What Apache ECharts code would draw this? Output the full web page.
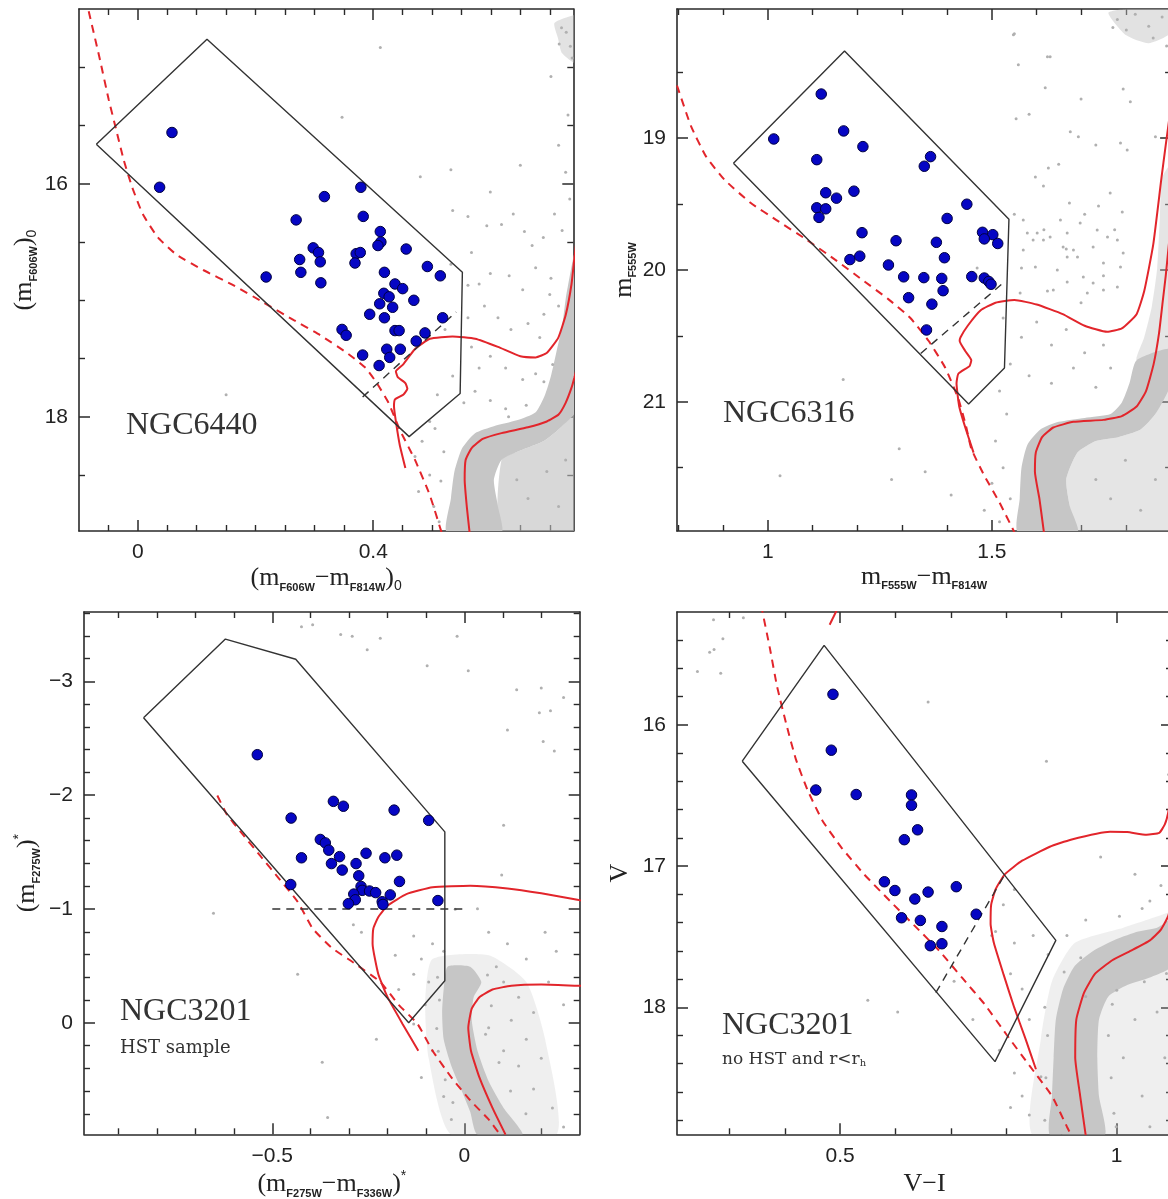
<!DOCTYPE html>
<html><head><meta charset="utf-8">
<script src="https://cdn.jsdelivr.net/npm/echarts@6/dist/echarts.min.js"></script>
<style>html,body{margin:0;padding:0;background:#fff}#c{width:1168px;height:1199px}</style>
</head><body><div id="c"></div>
<script>
// ================= DATA =================
// ---- Panel 1: NGC6440 ----
const p1XTicks = [0, 0.4];
const p1YTicks = [16, 18];
const p1Blue = [[0.058,15.56],[0.037,16.03],[0.379,16.03],[0.317,16.11],[0.383,16.28],[0.269,16.31],[0.412,16.41],[0.413,16.50],[0.408,16.53],[0.456,16.56],[0.298,16.55],[0.307,16.59],[0.371,16.60],[0.378,16.59],[0.275,16.65],[0.310,16.67],[0.369,16.68],[0.492,16.71],[0.514,16.79],[0.218,16.80],[0.277,16.76],[0.419,16.76],[0.311,16.85],[0.437,16.86],[0.450,16.90],[0.418,16.94],[0.427,16.97],[0.469,17.00],[0.411,17.03],[0.433,17.06],[0.394,17.12],[0.419,17.15],[0.518,17.15],[0.347,17.25],[0.354,17.30],[0.437,17.26],[0.444,17.26],[0.488,17.28],[0.473,17.35],[0.423,17.42],[0.446,17.42],[0.382,17.47],[0.428,17.49],[0.410,17.56]];
const p1Box = [[-0.0706,15.66],[0.1175,14.76],[0.5515,16.76],[0.5477,17.80],[0.461,18.17],[-0.0706,15.66]];
const p1Cut = [[0.382,17.83],[0.541,17.10]];
const p1Zahb = [[-0.0835,14.52],[-0.0655,14.91],[-0.0494,15.28],[-0.0366,15.54],[-0.0238,15.80],[-0.0096,16.03],[0.0083,16.26],[0.034,16.46],[0.066,16.61],[0.111,16.74],[0.162,16.87],[0.214,17.02],[0.265,17.17],[0.310,17.30],[0.355,17.45],[0.387,17.58],[0.406,17.71],[0.426,17.88],[0.445,18.11],[0.471,18.37],[0.496,18.67],[0.516,18.99]];
const p1IsoUpper = [[0.4546,18.44],[0.445,18.24],[0.4385,18.04],[0.4353,17.91],[0.437,17.85],[0.451,17.81],[0.458,17.76],[0.4546,17.71],[0.4417,17.66],[0.4385,17.61],[0.451,17.55],[0.4706,17.42],[0.4963,17.33],[0.5348,17.31],[0.5733,17.33],[0.612,17.40],[0.650,17.48],[0.676,17.49],[0.6953,17.45],[0.7146,17.32],[0.7274,17.12],[0.737,16.86],[0.742,16.63],[0.75,16.3]];
const p1IsoLower = [[0.5637,18.99],[0.559,18.77],[0.5554,18.54],[0.557,18.37],[0.567,18.27],[0.586,18.19],[0.618,18.14],[0.663,18.09],[0.695,18.04],[0.715,17.98],[0.727,17.88],[0.737,17.75],[0.742,17.66],[0.75,17.5]];
const p1Dense = [[0.525,18.99],[0.532,18.70],[0.538,18.47],[0.551,18.27],[0.573,18.14],[0.605,18.08],[0.644,18.03],[0.676,17.96],[0.692,17.81],[0.702,17.65],[0.711,17.45],[0.721,17.22],[0.727,16.99],[0.734,16.79],[0.742,16.59],[0.75,16.5],[0.75,17.91],[0.721,18.08],[0.689,18.21],[0.650,18.29],[0.618,18.37],[0.605,18.54],[0.612,18.77],[0.618,18.99]];
const p1Light = [[0.618,18.99],[0.618,18.37],[0.650,18.29],[0.689,18.21],[0.721,18.08],[0.75,17.91],[0.75,18.99]];
const p1Clump = [[0.708,14.62],[0.742,14.55],[0.75,14.55],[0.75,14.98],[0.721,14.88],[0.714,14.75]];
const p1Field = [[0.412,14.83],[0.347,15.43],[0.532,15.88],[0.480,15.94],[0.535,16.23],[0.561,16.28],[0.593,16.36],[0.618,16.35],[0.638,16.26],[0.657,16.41],[0.670,16.53],[0.689,16.46],[0.580,16.86],[0.599,16.77],[0.561,16.87],[0.631,16.79],[0.654,16.91],[0.676,16.72],[0.702,16.81],[0.589,17.05],[0.612,17.15],[0.634,17.25],[0.663,17.20],[0.683,17.32],[0.567,17.40],[0.599,17.48],[0.625,17.58],[0.654,17.68],[0.676,17.63],[0.580,17.58],[0.573,17.78],[0.599,17.86],[0.625,17.93],[0.509,17.81],[0.496,18.04],[0.483,18.21],[0.471,18.34],[0.496,18.50],[0.477,18.64],[0.503,18.77],[0.512,18.90],[0.644,18.54],[0.663,18.70],[0.695,18.47],[0.715,18.77],[0.727,18.37],[0.150,17.81],[0.535,17.65],[0.554,17.88],[0.522,17.25],[0.561,17.15],[0.532,16.69],[0.567,16.59],[0.708,16.26],[0.721,16.40],[0.734,16.13],[0.727,15.90],[0.715,15.67],[0.731,15.41],[0.702,15.08],[0.650,15.84],[0.599,16.07],[0.728,14.70],[0.735,14.82],[0.720,14.66],[0.738,14.92],[0.716,14.80],[0.505,18.10],[0.520,18.30],[0.515,18.55],[0.690,17.70],[0.705,17.55],[0.660,17.90],[0.630,18.00],[0.700,16.95],[0.715,17.05],[0.690,17.12]];

// ---- Panel 2: NGC6316 ----
const p2XTicks = [1, 1.5];
const p2YTicks = [19, 20, 21];
const p2Blue = [[1.119,18.665],[1.013,19.006],[1.169,18.945],[1.212,19.064],[1.109,19.163],[1.363,19.140],[1.349,19.213],[1.129,19.414],[1.192,19.402],[1.153,19.455],[1.109,19.528],[1.129,19.536],[1.114,19.601],[1.444,19.501],[1.400,19.609],[1.210,19.717],[1.479,19.714],[1.502,19.732],[1.483,19.764],[1.513,19.799],[1.286,19.778],[1.376,19.790],[1.183,19.921],[1.205,19.895],[1.394,19.907],[1.269,19.962],[1.303,20.052],[1.348,20.058],[1.388,20.064],[1.455,20.050],[1.483,20.061],[1.493,20.087],[1.498,20.108],[1.391,20.157],[1.314,20.210],[1.366,20.259],[1.354,20.455]];
const p2Box = [[0.923,19.19],[1.171,18.338],[1.538,19.615],[1.528,20.743],[1.448,21.017],[0.923,19.19]];
const p2Cut = [[1.341,20.633],[1.527,20.093]];
const p2Zahb = [[0.797,18.60],[0.828,18.907],[0.862,19.140],[0.903,19.315],[0.961,19.490],[1.019,19.621],[1.085,19.767],[1.152,19.927],[1.210,20.073],[1.268,20.219],[1.318,20.364],[1.359,20.539],[1.396,20.743],[1.425,20.977],[1.442,21.181],[1.454,21.356],[1.483,21.560],[1.517,21.764],[1.550,21.988]];
const p2IsoUpper = [[1.459,21.385],[1.442,21.210],[1.427,21.035],[1.421,20.860],[1.425,20.787],[1.450,20.729],[1.454,20.685],[1.440,20.612],[1.428,20.539],[1.430,20.510],[1.446,20.423],[1.475,20.306],[1.508,20.248],[1.550,20.227],[1.600,20.262],[1.658,20.335],[1.707,20.423],[1.757,20.469],[1.790,20.443],[1.823,20.335],[1.840,20.160],[1.860,19.810],[1.878,19.315],[1.888,19.052],[1.9,18.75]];
const p2IsoLower = [[1.616,21.988],[1.606,21.735],[1.596,21.531],[1.598,21.385],[1.612,21.268],[1.637,21.195],[1.682,21.152],[1.749,21.137],[1.790,21.108],[1.823,21.035],[1.844,20.918],[1.861,20.714],[1.873,20.481],[1.881,20.248],[1.888,20.044],[1.894,19.840],[1.9,19.64]];
const p2Dense = [[1.558,21.988],[1.562,21.735],[1.566,21.501],[1.579,21.327],[1.608,21.21],[1.649,21.152],[1.707,21.122],[1.765,21.093],[1.79,21.006],[1.807,20.86],[1.823,20.685],[1.9,20.6],[1.9,20.86],[1.865,21.093],[1.832,21.21],[1.782,21.268],[1.732,21.297],[1.691,21.385],[1.666,21.589],[1.674,21.793],[1.691,21.988]];
const p2Light = [[1.691,21.988],[1.674,21.793],[1.666,21.589],[1.691,21.385],[1.732,21.297],[1.782,21.268],[1.832,21.21],[1.865,21.093],[1.9,20.86],[1.9,21.988]];
const p2Rgb = [[1.823,20.685],[1.84,20.51],[1.857,20.277],[1.869,19.985],[1.875,19.6],[1.88,19.3],[1.9,19.2],[1.9,20.6]];
const p2Clump = [[1.76,18.05],[1.80,18.02],[1.9,18.02],[1.9,18.2],[1.85,18.28],[1.80,18.22]];
const p2Field = [[1.548,18.215],[1.630,18.383],[1.559,18.443],[1.619,18.618],[1.793,18.626],[1.809,18.724],[1.554,18.853],[1.675,18.952],[1.693,18.990],[1.787,19.036],[1.802,19.089],[1.865,18.990],[1.626,19.226],[1.597,19.294],[1.615,19.362],[1.764,19.415],[1.738,19.514],[1.673,19.491],[1.791,19.560],[1.570,19.620],[1.653,19.620],[1.697,19.643],[1.735,19.696],[1.579,19.719],[1.601,19.719],[1.630,19.749],[1.668,19.719],[1.758,19.749],[1.592,19.772],[1.615,19.772],[1.659,19.825],[1.682,19.848],[1.726,19.825],[1.780,19.772],[1.793,19.871],[1.570,19.848],[1.668,19.901],[1.691,19.901],[1.749,19.947],[1.787,19.977],[1.597,19.977],[1.646,20.0],[1.704,20.053],[1.726,20.099],[1.668,20.091],[1.637,20.152],[1.713,20.175],[1.749,20.152],[1.780,20.129],[1.563,20.175],[1.550,18.207],[1.624,18.382],[1.525,20.364],[1.566,20.510],[1.600,20.394],[1.633,20.569],[1.666,20.452],[1.707,20.627],[1.749,20.569],[1.541,20.714],[1.583,20.802],[1.633,20.860],[1.682,20.743],[1.732,20.889],[1.765,20.743],[1.517,20.918],[1.533,21.093],[1.508,21.297],[1.525,21.501],[1.541,21.735],[1.500,21.618],[1.483,21.822],[1.517,21.910],[1.467,19.985],[1.566,19.985],[1.624,20.160],[1.699,20.248],[1.749,20.044],[1.666,19.840],[1.616,19.694],[1.550,19.577],[1.707,19.577],[1.774,19.694],[1.649,19.198],[1.732,19.052],[1.583,18.819],[1.699,18.703],[1.293,21.356],[1.351,21.531],[1.409,21.706],[1.276,21.589],[1.027,21.560],[1.168,20.831],[1.732,21.589],[1.765,21.735],[1.798,21.443],[1.832,21.822],[1.865,21.589],[1.780,18.10],[1.820,18.06],[1.850,18.15],[1.880,18.08],[1.800,18.18],[1.860,18.24],[1.890,18.30],[1.770,18.16]];

// ---- Panel 3: NGC3201, HST sample ----
const p3XTicks = [-0.5, 0];
const p3YTicks = [-3, -2, -1, 0];
const p3Blue = [[-0.539,-2.356],[-0.341,-1.946],[-0.315,-1.903],[-0.451,-1.799],[-0.183,-1.869],[-0.093,-1.779],[-0.375,-1.611],[-0.362,-1.581],[-0.353,-1.517],[-0.325,-1.460],[-0.424,-1.450],[-0.256,-1.490],[-0.176,-1.473],[-0.207,-1.450],[-0.346,-1.399],[-0.282,-1.399],[-0.318,-1.342],[-0.275,-1.292],[-0.169,-1.242],[-0.452,-1.215],[-0.269,-1.198],[-0.266,-1.164],[-0.247,-1.158],[-0.231,-1.144],[-0.288,-1.131],[-0.193,-1.124],[-0.284,-1.081],[-0.302,-1.047],[-0.214,-1.064],[-0.212,-1.040],[-0.069,-1.074]];
const p3Box = [[-0.835,-2.681],[-0.622,-3.372],[-0.439,-3.195],[-0.051,-1.678],[-0.051,-0.369],[-0.145,0.0],[-0.835,-2.681]];
const p3Cut = [[-0.5,-1.0],[0.0,-1.0]];
const p3Zahb = [[-0.643,-1.997],[-0.619,-1.836],[-0.580,-1.668],[-0.531,-1.466],[-0.482,-1.265],[-0.434,-1.064],[-0.395,-0.829],[-0.346,-0.661],[-0.288,-0.527],[-0.219,-0.359],[-0.171,-0.158],[-0.122,0.010],[-0.083,0.245],[-0.034,0.480],[0.015,0.681],[0.063,0.849],[0.093,0.983]];
const p3IsoUpper = [[-0.120,0.245],[-0.161,0.010],[-0.200,-0.225],[-0.224,-0.426],[-0.239,-0.695],[-0.237,-0.829],[-0.224,-0.930],[-0.200,-1.030],[-0.151,-1.131],[-0.083,-1.191],[0.015,-1.205],[0.112,-1.181],[0.200,-1.138],[0.294,-1.081],[0.31,-1.07]];
const p3IsoLower = [[0.107,0.983],[0.073,0.748],[0.039,0.480],[0.017,0.245],[0.010,0.044],[0.019,-0.124],[0.039,-0.225],[0.073,-0.292],[0.122,-0.326],[0.200,-0.336],[0.294,-0.326],[0.31,-0.325]];
const p3Dense = [[-0.044,-0.493],[-0.054,-0.292],[-0.058,-0.091],[-0.054,0.144],[-0.034,0.379],[-0.005,0.614],[0.015,0.782],[0.034,0.983],[0.151,0.983],[0.102,0.748],[0.063,0.513],[0.034,0.245],[0.019,-0.023],[0.024,-0.225],[0.044,-0.359],[0.015,-0.493]];
const p3Light = [[-0.083,-0.560],[0.063,-0.594],[0.161,-0.359],[0.210,0.144],[0.239,0.983],[-0.034,0.983],[-0.093,0.312],[-0.102,-0.191]];
const p3Field = [[-0.424,-3.480],[-0.395,-3.497],[-0.322,-3.413],[-0.292,-3.396],[-0.253,-3.279],[-0.219,-3.379],[-0.097,-3.138],[-0.019,-3.396],[0.010,-3.094],[0.136,-2.926],[0.200,-2.943],[0.258,-2.859],[0.112,-2.574],[0.205,-2.473],[0.234,-2.389],[0.195,-2.725],[0.224,-2.742],[0.102,-1.735],[0.097,-1.299],[-0.024,-0.997],[0.034,-1.003],[-0.073,-1.097],[-0.653,-0.963],[-0.289,-0.862],[-0.268,-0.795],[-0.132,-0.762],[-0.083,-0.695],[-0.054,-0.628],[-0.112,-0.560],[0.063,-0.795],[0.112,-0.695],[0.161,-0.560],[0.210,-0.795],[0.239,-0.628],[-0.132,-0.426],[-0.093,-0.359],[-0.171,-0.292],[-0.102,-0.158],[-0.132,0.010],[-0.229,0.144],[-0.434,-0.426],[-0.370,0.346],[-0.356,0.832],[-0.083,0.245],[-0.112,0.480],[-0.054,0.648],[-0.034,0.849],[0.102,-0.359],[0.141,-0.225],[0.180,-0.091],[0.219,-0.359],[0.258,-0.158],[0.122,-0.023],[0.161,0.144],[0.200,0.312],[0.141,0.379],[0.180,0.581],[0.229,0.748],[0.258,0.916],[0.102,0.245],[0.063,0.044],[-0.180,-0.594],[0.083,-0.493],[-0.070,-0.400],[-0.065,-0.200],[-0.072,0.050],[-0.068,0.250],[-0.050,0.500],[-0.030,0.700],[0.060,-0.420],[0.070,-0.150],[0.055,0.100],[0.090,0.350],[0.120,0.600],[0.160,0.800]];

// ---- Panel 4: NGC3201, no HST and r<rh ----
const p4XTicks = [0.5, 1];
const p4YTicks = [16, 17, 18];
const p4Blue = [[0.487,15.783],[0.484,16.179],[0.456,16.461],[0.529,16.493],[0.629,16.496],[0.629,16.569],[0.640,16.743],[0.616,16.813],[0.580,17.111],[0.599,17.173],[0.635,17.233],[0.659,17.184],[0.710,17.146],[0.611,17.366],[0.645,17.385],[0.684,17.428],[0.746,17.341],[0.684,17.550],[0.663,17.564]];
const p4Box = [[0.323,16.257],[0.471,15.436],[0.890,17.526],[0.780,18.385],[0.323,16.257]];
const p4Cut = [[0.673,17.897],[0.799,17.051]];
const p4Zahb = [[0.357,15.15],[0.373,15.458],[0.386,15.729],[0.403,16.0],[0.420,16.244],[0.441,16.461],[0.468,16.678],[0.502,16.867],[0.543,17.057],[0.590,17.247],[0.638,17.436],[0.679,17.599],[0.720,17.789],[0.761,17.978],[0.801,18.195],[0.842,18.412],[0.883,18.629],[0.910,18.846],[0.918,18.908]];
const p4IsoUpper = [[0.854,18.439],[0.835,18.222],[0.815,18.005],[0.795,17.762],[0.778,17.545],[0.772,17.409],[0.773,17.274],[0.781,17.165],[0.798,17.057],[0.829,16.962],[0.879,16.863],[0.917,16.813],[0.988,16.757],[1.019,16.759],[1.054,16.778],[1.077,16.764],[1.087,16.705],[1.093,16.623],[1.1,16.45]];
const p4IsoTop = [[0.481,15.29],[0.496,15.17]];
const p4IsoLower = [[0.944,18.908],[0.934,18.629],[0.925,18.358],[0.927,18.087],[0.941,17.897],[0.961,17.762],[0.992,17.667],[1.026,17.599],[1.060,17.526],[1.080,17.450],[1.093,17.355],[1.1,17.25]];
const p4Dense = [[0.880,18.908],[0.883,18.629],[0.886,18.358],[0.890,18.087],[0.903,17.870],[0.924,17.707],[0.958,17.599],[0.999,17.518],[1.039,17.463],[1.073,17.436],[1.1,17.38],[1.1,17.707],[1.060,17.789],[1.019,17.843],[0.985,17.924],[0.968,18.087],[0.965,18.358],[0.968,18.629],[0.978,18.908]];
const p4Light = [[0.849,18.908],[0.863,18.222],[0.883,17.816],[0.924,17.545],[1.012,17.436],[1.093,17.328],[1.1,17.3],[1.1,18.908]];
const p4Field = [[0.242,15.621],[0.264,15.485],[0.272,15.466],[0.284,15.634],[0.288,15.390],[0.325,15.241],[0.271,15.255],[0.659,15.837],[0.873,16.257],[1.094,16.352],[0.774,17.491],[0.795,17.274],[0.815,17.165],[0.550,17.951],[0.604,18.033],[0.706,17.816],[0.740,18.087],[0.788,18.304],[0.815,18.466],[0.829,18.629],[0.842,18.764],[0.808,18.710],[0.863,18.493],[0.971,16.935],[1.033,17.057],[1.060,17.247],[1.080,17.138],[1.046,17.301],[0.849,17.491],[0.876,17.626],[0.910,17.491],[0.944,17.382],[1.005,17.355],[0.944,17.924],[0.992,17.978],[1.033,18.087],[1.073,18.033],[1.012,18.358],[1.046,18.629],[1.087,18.358],[0.999,18.846],[1.060,18.846],[0.842,18.087],[0.829,17.870],[0.808,17.762],[0.815,17.545],[0.781,17.463],[0.870,18.000],[0.875,18.200],[0.872,18.500],[0.870,18.800],[0.985,18.200],[0.990,18.500],[0.995,18.750],[0.905,17.750],[0.935,17.650],[1.000,17.880],[1.050,17.820],[1.090,17.760]];

// ================= BUILD =================
const AX = '#2a2a2a', RED = '#e2252b', BLUE = '#0606c4', GRAY = '#b0b0b0';
const grids = [], xAxes = [], yAxes = [], series = [];

function steps(min, max, step, skip) {
  const out = [];
  for (let k = Math.ceil(min / step - 1e-9); k * step <= max + 1e-9; k++) {
    const v = +(k * step).toFixed(6);
    if (v > min + 1e-9 && v < max - 1e-9 && !skip.some(s => Math.abs(s - v) < 1e-9)) out.push(v);
  }
  return out;
}
const fmt = v => (v < 0 ? '\u2212' : '') + String(+Math.abs(v).toFixed(3));
const labelStyle = { fontFamily: 'Liberation Sans', fontSize: 21, color: '#222' };
const richName = {
  p: { fontFamily: 'Liberation Serif', fontSize: 26, color: '#222', lineHeight: 30 },
  s: { fontFamily: 'Liberation Sans', fontWeight: 'bold', fontSize: 11, color: '#222', verticalAlign: 'bottom', lineHeight: 14 },
  z: { fontFamily: 'Liberation Sans', fontSize: 14, color: '#222', verticalAlign: 'bottom', lineHeight: 14 },
  u: { fontFamily: 'Liberation Sans', fontSize: 14, color: '#222', verticalAlign: 'top', lineHeight: 12 }
};

function addPanel(g, xs, ys) {
  const gi = grids.length;
  grids.push(Object.assign({ containLabel: false, outerBoundsMode: 'none' }, g));
  const xi = xAxes.length, yi = yAxes.length;
  const xMinor = steps(xs.min, xs.max, xs.step, xs.major);
  const yMinor = steps(ys.min, ys.max, ys.step, ys.major);
  const common = (min, max) => ({ gridIndex: gi, type: 'value', min, max, splitLine: { show: false }, silent: true });
  ['bottom', 'top'].forEach(pos => {
    xAxes.push(Object.assign(common(xs.min, xs.max), {
      position: pos,
      axisLine: { show: true, onZero: false, lineStyle: { color: AX, width: 1.6 } },
      axisTick: { show: true, inside: true, length: 11, customValues: xs.major, lineStyle: { color: AX, width: 1.5 } },
      axisLabel: Object.assign({ show: pos === 'bottom', customValues: xs.major, formatter: fmt, margin: 11 }, labelStyle),
      name: pos === 'bottom' ? xs.name : '', nameLocation: 'middle', nameGap: xs.gap,
      nameTextStyle: { rich: richName }
    }));
    xAxes.push(Object.assign(common(xs.min, xs.max), {
      position: pos,
      axisLine: { show: false, onZero: false },
      axisTick: { show: true, inside: true, length: 6, customValues: xMinor, lineStyle: { color: AX, width: 1.4 } },
      axisLabel: { show: false }
    }));
  });
  ['left', 'right'].forEach(pos => {
    yAxes.push(Object.assign(common(ys.min, ys.max), {
      position: pos, inverse: true,
      axisLine: { show: true, onZero: false, lineStyle: { color: AX, width: 1.6 } },
      axisTick: { show: true, inside: true, length: 11, customValues: ys.major, lineStyle: { color: AX, width: 1.5 } },
      axisLabel: Object.assign({ show: pos === 'left', customValues: ys.major, formatter: fmt, margin: 11 }, labelStyle),
      name: pos === 'left' ? ys.name : '', nameLocation: 'middle', nameGap: ys.gap, nameRotate: 90,
      nameTextStyle: { rich: richName }
    }));
    yAxes.push(Object.assign(common(ys.min, ys.max), {
      position: pos, inverse: true,
      axisLine: { show: false, onZero: false },
      axisTick: { show: true, inside: true, length: 6, customValues: yMinor, lineStyle: { color: AX, width: 1.4 } },
      axisLabel: { show: false }
    }));
  });
  return { xi, yi };
}

function poly(ax, pts, fill, z) {
  series.push({
    type: 'custom', xAxisIndex: ax.xi, yAxisIndex: ax.yi, clip: true, silent: true, z,
    data: [pts[0]],
    renderItem: (params, api) => ({
      type: 'polygon',
      shape: { points: pts.map(p => api.coord(p)), smooth: 0.2 },
      style: { fill: fill, stroke: null }
    })
  });
}
function line(ax, pts, color, width, type, z, smooth) {
  series.push({
    type: 'line', xAxisIndex: ax.xi, yAxisIndex: ax.yi, data: pts, symbol: 'none', showSymbol: false,
    smooth: smooth, clip: true, silent: true, z,
    lineStyle: { color, width, type, opacity: 1 }
  });
}
function dots(ax, pts, size, style, z) {
  series.push({ type: 'scatter', xAxisIndex: ax.xi, yAxisIndex: ax.yi, data: pts, symbolSize: size, clip: true, silent: true, z, itemStyle: Object.assign({ opacity: 1 }, style) });
}
function panelLayers(ax, d) {
  (d.light || []).forEach(p => poly(ax, p, d.lightFill, 1));
  (d.dense || []).forEach(p => poly(ax, p, '#c6c6c6', 2));
  (d.soft || []).forEach(p => poly(ax, p, 'rgba(190,190,190,0.45)', 2));
  dots(ax, d.field, 3, { color: GRAY }, 3);
  line(ax, d.zahb, RED, 2, [8, 6], 4, 0.15);
  d.iso.forEach(p => line(ax, p, RED, 2, 'solid', 4, 0.15));
  line(ax, d.box, '#333', 1.4, 'solid', 5, false);
  line(ax, d.cut, '#333', 1.4, [8, 6], 5, false);
  dots(ax, d.blue, 10.5, { color: BLUE, borderColor: '#000040', borderWidth: 1 }, 6);
}

const a1 = addPanel({ left: 79, top: 9, width: 494.3, height: 522 },
  { min: -0.1, max: 0.74, step: 0.05, major: p1XTicks, gap: 32, name: '{p|(m}{s|F606W}{p|\u2212m}{s|F814W}{p|)}{z|0}' },
  { min: 14.5, max: 18.98, step: 0.5, major: p1YTicks, gap: 40, name: '{p|(m}{s|F606W}{p|)}{z|0}' });
panelLayers(a1, { lightFill: 'rgba(190,190,190,0.6)', light: [p1Light], dense: [p1Dense], soft: [p1Clump], field: p1Field, zahb: p1Zahb, iso: [p1IsoUpper, p1IsoLower], box: p1Box, cut: p1Cut, blue: p1Blue });

const a2 = addPanel({ left: 677, top: 9, width: 494.1, height: 522 },
  { min: 0.797, max: 1.9, step: 0.1, major: p2XTicks, gap: 29, name: '{p|m}{s|F555W}{p|\u2212m}{s|F814W}' },
  { min: 18.02, max: 21.98, step: 0.5, major: p2YTicks, gap: 36, name: '{p|m}{s|F555W}' });
panelLayers(a2, { lightFill: 'rgba(190,190,190,0.4)', light: [p2Light, p2Rgb], dense: [p2Dense], soft: [p2Clump], field: p2Field, zahb: p2Zahb, iso: [p2IsoUpper, p2IsoLower], box: p2Box, cut: p2Cut, blue: p2Blue });

const a3 = addPanel({ left: 84, top: 612, width: 495.7, height: 522.3 },
  { min: -0.99, max: 0.3, step: 0.1, major: p3XTicks, gap: 35, name: '{p|(m}{s|F275W}{p|\u2212m}{s|F336W}{p|)}{u|*}' },
  { min: -3.61, max: 0.98, step: 0.2, major: p3YTicks, gap: 42, name: '{p|(m}{s|F275W}{p|)}{u|*}' });
panelLayers(a3, { lightFill: 'rgba(190,190,190,0.25)', light: [p3Light], dense: [p3Dense], field: p3Field, zahb: p3Zahb, iso: [p3IsoUpper, p3IsoLower], box: p3Box, cut: p3Cut, blue: p3Blue });

const a4 = addPanel({ left: 677, top: 612, width: 495, height: 522.3 },
  { min: 0.205, max: 1.1, step: 0.1, major: p4XTicks, gap: 35, name: '{p|V\u2212I}' },
  { min: 15.2, max: 18.9, step: 0.2, major: p4YTicks, gap: 42, name: '{p|V}' });
panelLayers(a4, { lightFill: 'rgba(190,190,190,0.25)', light: [p4Light], dense: [p4Dense], field: p4Field, zahb: p4Zahb, iso: [p4IsoUpper, p4IsoLower, p4IsoTop], box: p4Box, cut: p4Cut, blue: p4Blue });

const bigFont = '32px "Liberation Serif"';
const smallRich = {
  a: { fontFamily: 'DejaVu Serif', fontSize: 17, fill: '#333' },
  b: { fontFamily: 'DejaVu Serif', fontSize: 10, fill: '#333', verticalAlign: 'bottom', lineHeight: 12 }
};
const graphic = [
  { type: 'text', left: 126, top: 410, z: 10, style: { text: 'NGC6440', font: bigFont, fill: '#333' } },
  { type: 'text', left: 723, top: 398, z: 10, style: { text: 'NGC6316', font: bigFont, fill: '#333' } },
  { type: 'text', left: 120, top: 996, z: 10, style: { text: 'NGC3201', font: bigFont, fill: '#333' } },
  { type: 'text', left: 120, top: 1039, z: 10, style: { text: 'HST sample', font: '18px "DejaVu Serif"', fill: '#333' } },
  { type: 'text', left: 722, top: 1010, z: 10, style: { text: 'NGC3201', font: bigFont, fill: '#333' } },
  { type: 'text', left: 722, top: 1051, z: 10, style: { text: '{a|no HST and r<r}{b|h}', rich: smallRich } }
];

const chart = echarts.init(document.getElementById('c'), null, { renderer: 'canvas' });
chart.setOption({
  animation: false,
  backgroundColor: '#fff',
  grid: grids, xAxis: xAxes, yAxis: yAxes, series: series, graphic: graphic
});
</script></body></html>
